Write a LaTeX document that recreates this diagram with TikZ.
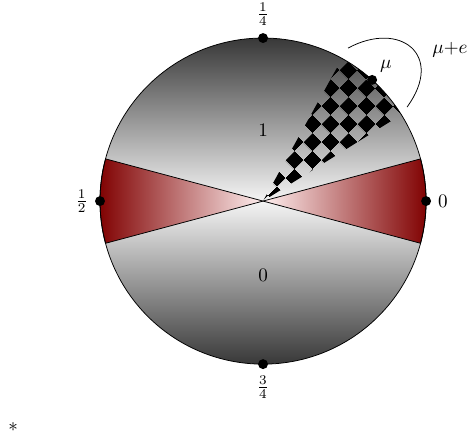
\documentclass[tikz,border=0pt]{standalone}
\usepackage{amsmath, amssymb}
\usepackage{xcolor}
\usepackage{tikz}
\usetikzlibrary{patterns.meta}
\usetikzlibrary{positioning}

\tikzdeclarepattern{
  name=diamondboard,
  type=uncolored,
  bottom left={(0pt,0pt)},
  top right={(13.6pt,13.6pt)},
  tile size={(13.6pt,13.6pt)},
  tile transformation={rotate=45},
  code={
    \tikzset{x=1pt,y=1pt}
    \fill (0,0) rectangle (6.8,6.8);
    \fill (6.8,6.8) rectangle (13.6,13.6);
  }
}

\tikzset{
  dot/.style={circle, fill=black, inner sep=0pt, minimum size=5.2pt},
}

\begin{document}
\begin{tikzpicture}
        \useasboundingbox (-4.84,-4.42) rectangle (3.90,3.70);
        \begin{scope}
            \clip (0,0) circle (3);
            \shade[top color=black!78, bottom color=black!4] (-3,0) rectangle (3,3);
            \shade[top color=black!4, bottom color=black!78] (-3,-3) rectangle (3,0);
        \end{scope}
        \shadedraw[left color=red!6, right color=red!50!black] (0,0) -- (15:3) arc (15:-15:3) -- cycle;
        \shadedraw[left color=red!50!black, right color=red!6] (0,0) -- (165:3) arc (165:195:3) -- cycle;
        \fill[pattern=diamondboard, pattern color=black] (0,0) -- (32:3) arc (32:61:3) -- cycle;
        \draw (0,0) circle (3);
        \node[dot, label=above:$\frac{1}{4}$] (quarter) at (90:3) {};
        \node[dot, label=left:$\frac{1}{2}$] (half) at (180:3) {};
        \node[dot, label=below:$\frac{3}{4}$] (threequarter) at (270:3) {};
        \node[dot, label=right:$0$] (zero) at (0:3) {};
        \node[dot, label={[inner sep=2pt]above right:$\mu$}] (mu) at (48:3) {};
        \node (upper) at (0,1.31) {$1$};
        \node (lower) at (0,-1.36) {$0$};
        \coordinate (bendstart) at (1.565,2.816);
        \coordinate (bendend) at (2.65,1.73);
        \draw (bendstart) .. controls (2.52,3.33) and (3.35,2.69) .. (bendend);
        \node (mue) at (3.44,2.78) {$\mu{+}e$};
        \node (star) at (-4.60,-4.16) {$*$};
    \end{tikzpicture}
\end{document}
